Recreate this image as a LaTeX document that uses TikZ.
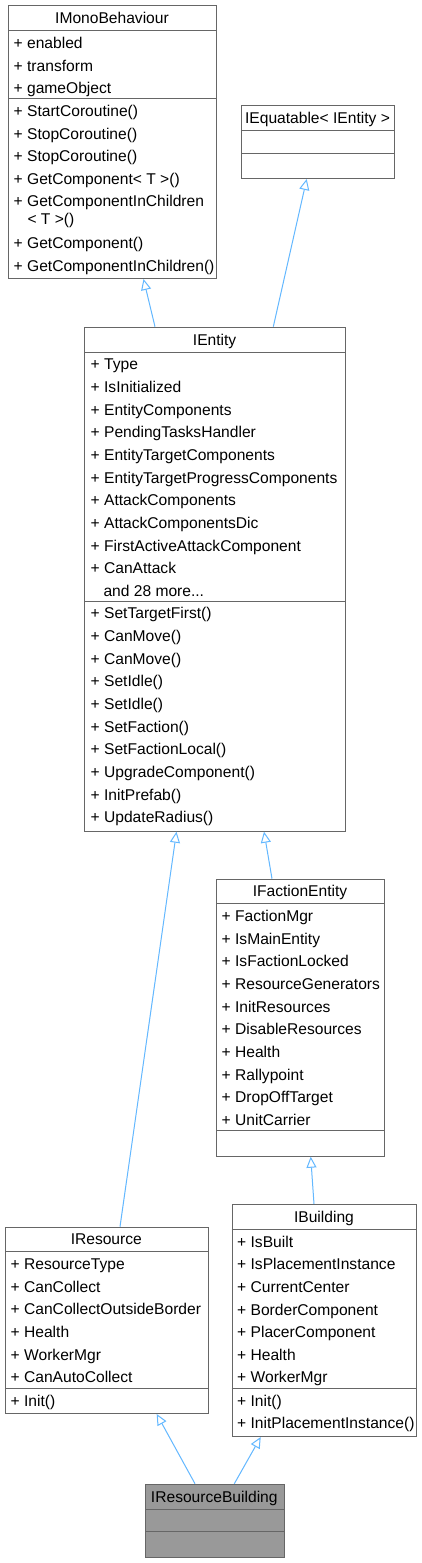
\documentclass[tikz,border=0pt]{standalone}
\usepackage{fontspec}
\setmainfont{Liberation Sans}
\usetikzlibrary{arrows.meta}
\definecolor{boxgray}{HTML}{666666}
\definecolor{focusgray}{HTML}{999999}
\definecolor{linkblue}{HTML}{63B8FF}
\tikzset{
  classbox/.style={draw=boxgray, line width=1pt, fill=white, inner sep=0pt, anchor=north west},
  sepline/.style={draw=boxgray, line width=1pt},
  member/.style={anchor=base west, inner sep=0pt, font=\fontsize{15.6}{18}\selectfont},
  classname/.style={anchor=base, inner sep=0pt, font=\fontsize{15.6}{18}\selectfont},
  inherit/.style={draw=linkblue, line width=1pt, -{Triangle[open, length=11pt, width=10pt]}},
}
\begin{document}
\begin{tikzpicture}[x=1pt,y=-1pt]
    \fill[white] (0,0) rectangle (421,1563);
    \useasboundingbox (0,0) rectangle (421,1563);
    % IMonoBehaviour
    \node[classbox, minimum width=208pt, minimum height=273pt] at (8,5) (imono) {};
    \draw[sepline] ([yshift=-26pt]imono.north west) -- ([yshift=-26pt]imono.north east);
    \draw[sepline] ([yshift=-93pt]imono.north west) -- ([yshift=-93pt]imono.north east);
    \node[classname] at (112,23.5) (imono-t) {IMonoBehaviour};
    \foreach \txt [count=\i from 0] in {enabled,transform,gameObject}
        \node[member] (imono-a\i) at (13.5,{48.5+22.6*\i}) {+ \txt};
    \foreach \txt [count=\i from 0] in {StartCoroutine(),StopCoroutine(),StopCoroutine(),GetComponent< T >(),GetComponentInChildren}
        \node[member] (imono-m\i) at (13.5,{116.5+22.6*\i}) {+ \txt};
    \node[member] at (27.3,224.5) (imono-m5) {< T >()};
    \node[member] at (13.5,248.5) (imono-m6) {+ GetComponent()};
    \node[member] at (13.5,271) (imono-m7) {+ GetComponentInChildren()};
    % IEquatable
    \node[classbox, minimum width=153pt, minimum height=73pt] at (241,105) (iequat) {};
    \draw[sepline] ([yshift=-25pt]iequat.north west) -- ([yshift=-25pt]iequat.north east);
    \draw[sepline] ([yshift=-48pt]iequat.north west) -- ([yshift=-48pt]iequat.north east);
    \node[classname] at (317.5,123) (iequat-t) {IEquatable< IEntity >};
    % IEntity
    \node[classbox, minimum width=260.7pt, minimum height=504pt] at (84.3,326.7) (ientity) {};
    \draw[sepline] ([yshift=-25.6pt]ientity.north west) -- ([yshift=-25.6pt]ientity.north east);
    \draw[sepline] ([yshift=-274.3pt]ientity.north west) -- ([yshift=-274.3pt]ientity.north east);
    \node[classname] at (214.6,345) (ientity-t) {IEntity};
    \foreach \txt [count=\i from 0] in {Type,IsInitialized,EntityComponents,PendingTasksHandler,EntityTargetComponents,EntityTargetProgressComponents,AttackComponents,AttackComponentsDic,FirstActiveAttackComponent,CanAttack}
        \node[member] (ientity-a\i) at (90.5,{369.8+22.67*\i}) {+ \txt};
    \node[member] at (103.3,596.5) (ientity-a10) {and 28 more...};
    \foreach \txt [count=\i from 0] in {SetTargetFirst(),CanMove(),CanMove(),SetIdle(),SetIdle(),SetFaction(),SetFactionLocal(),UpgradeComponent(),InitPrefab(),UpdateRadius()}
        \node[member] (ientity-m\i) at (90.5,{618.8+22.67*\i}) {+ \txt};
    % IFactionEntity
    \node[classbox, minimum width=168pt, minimum height=277pt] at (216,878.7) (ifaction) {};
    \draw[sepline] ([yshift=-25pt]ifaction.north west) -- ([yshift=-25pt]ifaction.north east);
    \draw[sepline] ([yshift=-252pt]ifaction.north west) -- ([yshift=-252pt]ifaction.north east);
    \node[classname] at (300,896.5) (ifaction-t) {IFactionEntity};
    \foreach \txt [count=\i from 0] in {FactionMgr,IsMainEntity,IsFactionLocked,ResourceGenerators,InitResources,DisableResources,Health,Rallypoint,DropOffTarget,UnitCarrier}
        \node[member] (ifaction-a\i) at (221.5,{921.5+22.67*\i}) {+ \txt};
    % IResource
    \node[classbox, minimum width=202.7pt, minimum height=186.3pt] at (5,1226.7) (iresource) {};
    \draw[sepline] ([yshift=-25pt]iresource.north west) -- ([yshift=-25pt]iresource.north east);
    \draw[sepline] ([yshift=-161.3pt]iresource.north west) -- ([yshift=-161.3pt]iresource.north east);
    \node[classname] at (106.3,1244.5) (iresource-t) {IResource};
    \foreach \txt [count=\i from 0] in {ResourceType,CanCollect,CanCollectOutsideBorder,Health,WorkerMgr,CanAutoCollect}
        \node[member] (iresource-a\i) at (10.5,{1269.5+22.67*\i}) {+ \txt};
    \node[member] at (10.5,1406.2) (iresource-m0) {+ Init()};
    % IBuilding
    \node[classbox, minimum width=184.6pt, minimum height=232pt] at (231.7,1204) (ibuilding) {};
    \draw[sepline] ([yshift=-25.3pt]ibuilding.north west) -- ([yshift=-25.3pt]ibuilding.north east);
    \draw[sepline] ([yshift=-184.3pt]ibuilding.north west) -- ([yshift=-184.3pt]ibuilding.north east);
    \node[classname] at (324,1222.2) (ibuilding-t) {IBuilding};
    \foreach \txt [count=\i from 0] in {IsBuilt,IsPlacementInstance,CurrentCenter,BorderComponent,PlacerComponent,Health,WorkerMgr}
        \node[member] (ibuilding-a\i) at (237,{1247.2+22.6*\i}) {+ \txt};
    \foreach \txt [count=\i from 0] in {Init(),InitPlacementInstance()}
        \node[member] (ibuilding-m\i) at (237,{1406.2+22.6*\i}) {+ \txt};
    % IResourceBuilding
    \node[classbox, fill=focusgray, minimum width=138.7pt, minimum height=73.6pt] at (145,1483.7) (irb) {};
    \draw[sepline] ([yshift=-25.6pt]irb.north west) -- ([yshift=-25.6pt]irb.north east);
    \draw[sepline] ([yshift=-48pt]irb.north west) -- ([yshift=-48pt]irb.north east);
    \node[classname] at (214.3,1502) (irb-t) {IResourceBuilding};
    % inheritance
    \draw[inherit] ([xshift=70.7pt]ientity.north west) -- ([xshift=135.5pt]imono.south west);
    \draw[inherit] ([xshift=189pt]ientity.north west) -- ([xshift=65.7pt]iequat.south west);
    \draw[inherit] ([xshift=56pt]ifaction.north west) -- ([xshift=179.7pt]ientity.south west);
    \draw[inherit] ([xshift=115pt]iresource.north west) -- ([xshift=92.2pt]ientity.south west);
    \draw[inherit] ([xshift=82.3pt]ibuilding.north west) -- ([xshift=94.7pt]ifaction.south west);
    \draw[inherit] ([xshift=50pt]irb.north west) -- ([xshift=151.7pt]iresource.south west);
    \draw[inherit] ([xshift=89.3pt]irb.north west) -- ([xshift=29pt]ibuilding.south west);
\end{tikzpicture}
\end{document}
